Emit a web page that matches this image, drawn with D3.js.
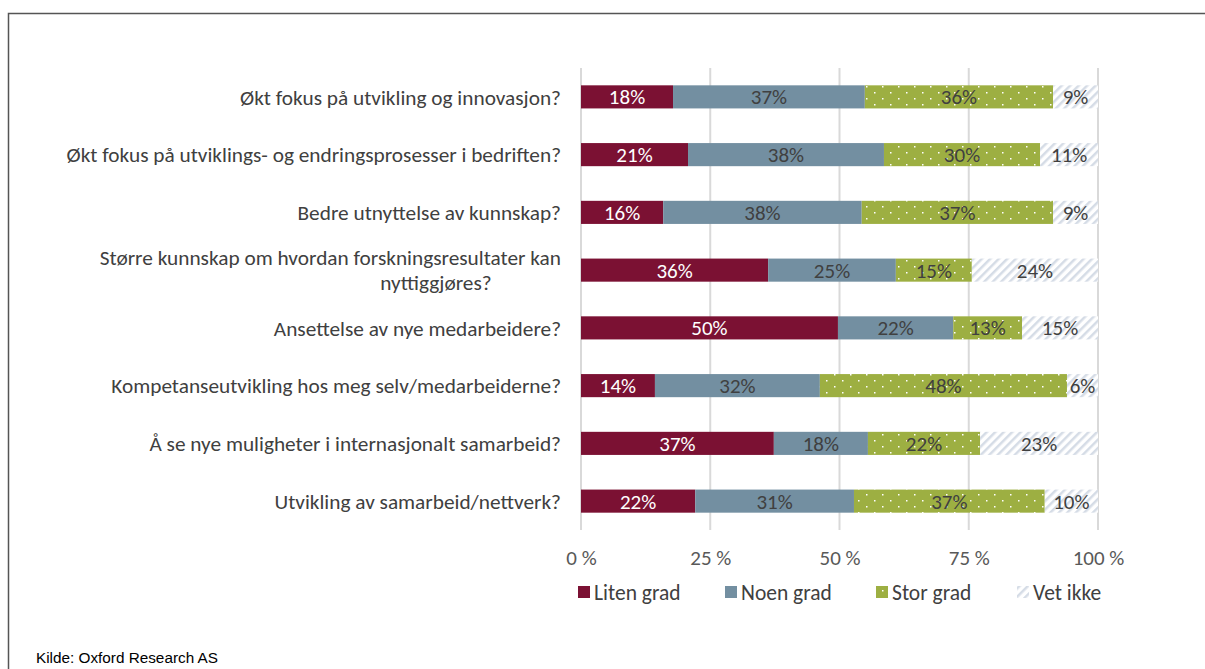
<!DOCTYPE html>
<html><head><meta charset="utf-8">
<script src="https://cdn.jsdelivr.net/npm/d3@7"></script>
<style>body{margin:0;background:#fff}svg{display:block}</style>
</head><body>
<script>
const categories = [
  "Økt fokus på utvikling og innovasjon?",
  "Økt fokus på utviklings- og endringsprosesser i bedriften?",
  "Bedre utnyttelse av kunnskap?",
  "Større kunnskap om hvordan forskningsresultater kan|nyttiggjøres?",
  "Ansettelse av nye medarbeidere?",
  "Kompetanseutvikling hos meg selv/medarbeiderne?",
  "Å se nye muligheter i internasjonalt samarbeid?",
  "Utvikling av samarbeid/nettverk?"
];
const seriesNames = ["Liten grad","Noen grad","Stor grad","Vet ikke"];
const litenGrad = [17.8,20.7,15.9,36.2,49.7,14.3,37.3,22.1];
const noenGrad  = [37.1,37.9,38.4,24.7,22.3,31.9,18.2,30.7];
const storGrad  = [36.4,30.2,37.0,14.7,13.3,47.8,21.7,36.9];
const vetIkke   = [8.7,11.2,8.7,24.4,14.7,6.0,22.8,10.3];
const tickValues = [0,25,50,75,100];
const tickLabels = ["0 %","25 %","50 %","75 %","100 %"];
const source = "Kilde: Oxford Research AS";

const W=1205,H=669;
const svg=d3.select("body").append("svg").attr("width",W).attr("height",H);
const defs=svg.append("defs");
const pd=defs.append("pattern").attr("id","dots").attr("patternUnits","userSpaceOnUse")
  .attr("width",16).attr("height",12);
pd.append("rect").attr("width",16).attr("height",12).attr("fill","#9DAF42");
pd.append("rect").attr("x",2).attr("y",2).attr("width",1.5).attr("height",1.5).attr("fill","#fff");
pd.append("rect").attr("x",10).attr("y",8).attr("width",1.5).attr("height",1.5).attr("fill","#fff");
const ph=defs.append("pattern").attr("id","hatch").attr("patternUnits","userSpaceOnUse")
  .attr("width",6).attr("height",6).attr("patternTransform","rotate(45)");
ph.append("rect").attr("width",6).attr("height",6).attr("fill","#fff");
ph.append("rect").attr("width",2.5).attr("height",6).attr("fill","#D5DCE6");

const fills=["#7B1133","#738FA1","url(#dots)","url(#hatch)"];
const textColors=["#fff","#404040","#404040","#404040"];

svg.append("rect").attr("x",8.5).attr("y",13.5).attr("width",W+20).attr("height",H+20)
  .attr("fill","none").attr("stroke","#555").attr("stroke-width",1.5);

const x=d3.scaleLinear().domain([0,100]).range([581,1098]);
const y=d3.scaleBand().domain(d3.range(categories.length)).range([68,530]).paddingInner(0.6).paddingOuter(0.3);

svg.append("g").selectAll("line").data(tickValues).join("line")
  .attr("x1",d=>x(d)).attr("x2",d=>x(d)).attr("y1",68).attr("y2",530)
  .attr("stroke","#D9D9D9").attr("stroke-width",2);

const font="Calibri, Carlito, 'Open Sans', sans-serif";
const stackData=categories.map((c,i)=>({i,liten:litenGrad[i],noen:noenGrad[i],stor:storGrad[i],vet:vetIkke[i]}));
const stack=d3.stack().keys(["liten","noen","stor","vet"])(stackData);

const gBars=svg.append("g");
stack.forEach((layer,k)=>{
  const g=gBars.append("g");
  g.selectAll("rect").data(layer).join("rect")
    .attr("x",d=>x(d[0])).attr("width",d=>x(d[1])-x(d[0]))
    .attr("y",(d,i)=>y(i)).attr("height",y.bandwidth())
    .attr("fill",fills[k]);
  g.selectAll("text").data(layer).join("text")
    .attr("x",d=>(x(d[0])+x(d[1]))/2).attr("y",(d,i)=>y(i)+y.bandwidth()/2)
    .attr("dy","0.36em").attr("text-anchor","middle")
    .attr("font-family",font).attr("font-size",21).attr("fill",textColors[k])
    .text(d=>Math.round(d[1]-d[0])+"%");
});

const gl=svg.append("g").attr("font-family",font).attr("font-size",21.3).attr("fill","#404040");
categories.forEach((c,i)=>{
  const parts=c.split("|");
  const cy=y(i)+y.bandwidth()/2;
  if(parts.length===1){
    gl.append("text").attr("x",561).attr("y",cy).attr("dy","0.36em").attr("text-anchor","end").text(parts[0]);
  } else {
    gl.append("text").attr("x",561).attr("y",cy-12.5).attr("dy","0.36em").attr("text-anchor","end").text(parts[0]);
    gl.append("text").attr("x",436).attr("y",cy+12.5).attr("dy","0.36em").attr("text-anchor","middle").text(parts[1]);
  }
});

const ax=svg.append("g").attr("transform","translate(0,557)")
  .call(d3.axisBottom(x).tickValues(tickValues).tickFormat((d,i)=>tickLabels[i]).tickSize(0));
ax.select(".domain").remove();
ax.selectAll("text").attr("font-family",font).attr("font-size",21).attr("fill","#595959").attr("y",0)
  .attr("dy","0.36em");

const legX=[578,725,876,1017];
const lg=svg.append("g");
seriesNames.forEach((s,k)=>{
  lg.append("rect").attr("x",legX[k]).attr("y",586).attr("width",12).attr("height",12).attr("fill",fills[k]);
  lg.append("text").attr("x",legX[k]+16).attr("y",592).attr("dy","0.36em")
    .attr("font-family",font).attr("font-size",21.5).attr("fill","#404040").text(s);
});

svg.append("text").attr("x",36).attr("y",657).attr("dy","0.36em")
  .attr("font-family","Arial, 'Liberation Sans', sans-serif").attr("font-size",15.3).attr("fill","#000").text(source);
</script>
</body></html>
